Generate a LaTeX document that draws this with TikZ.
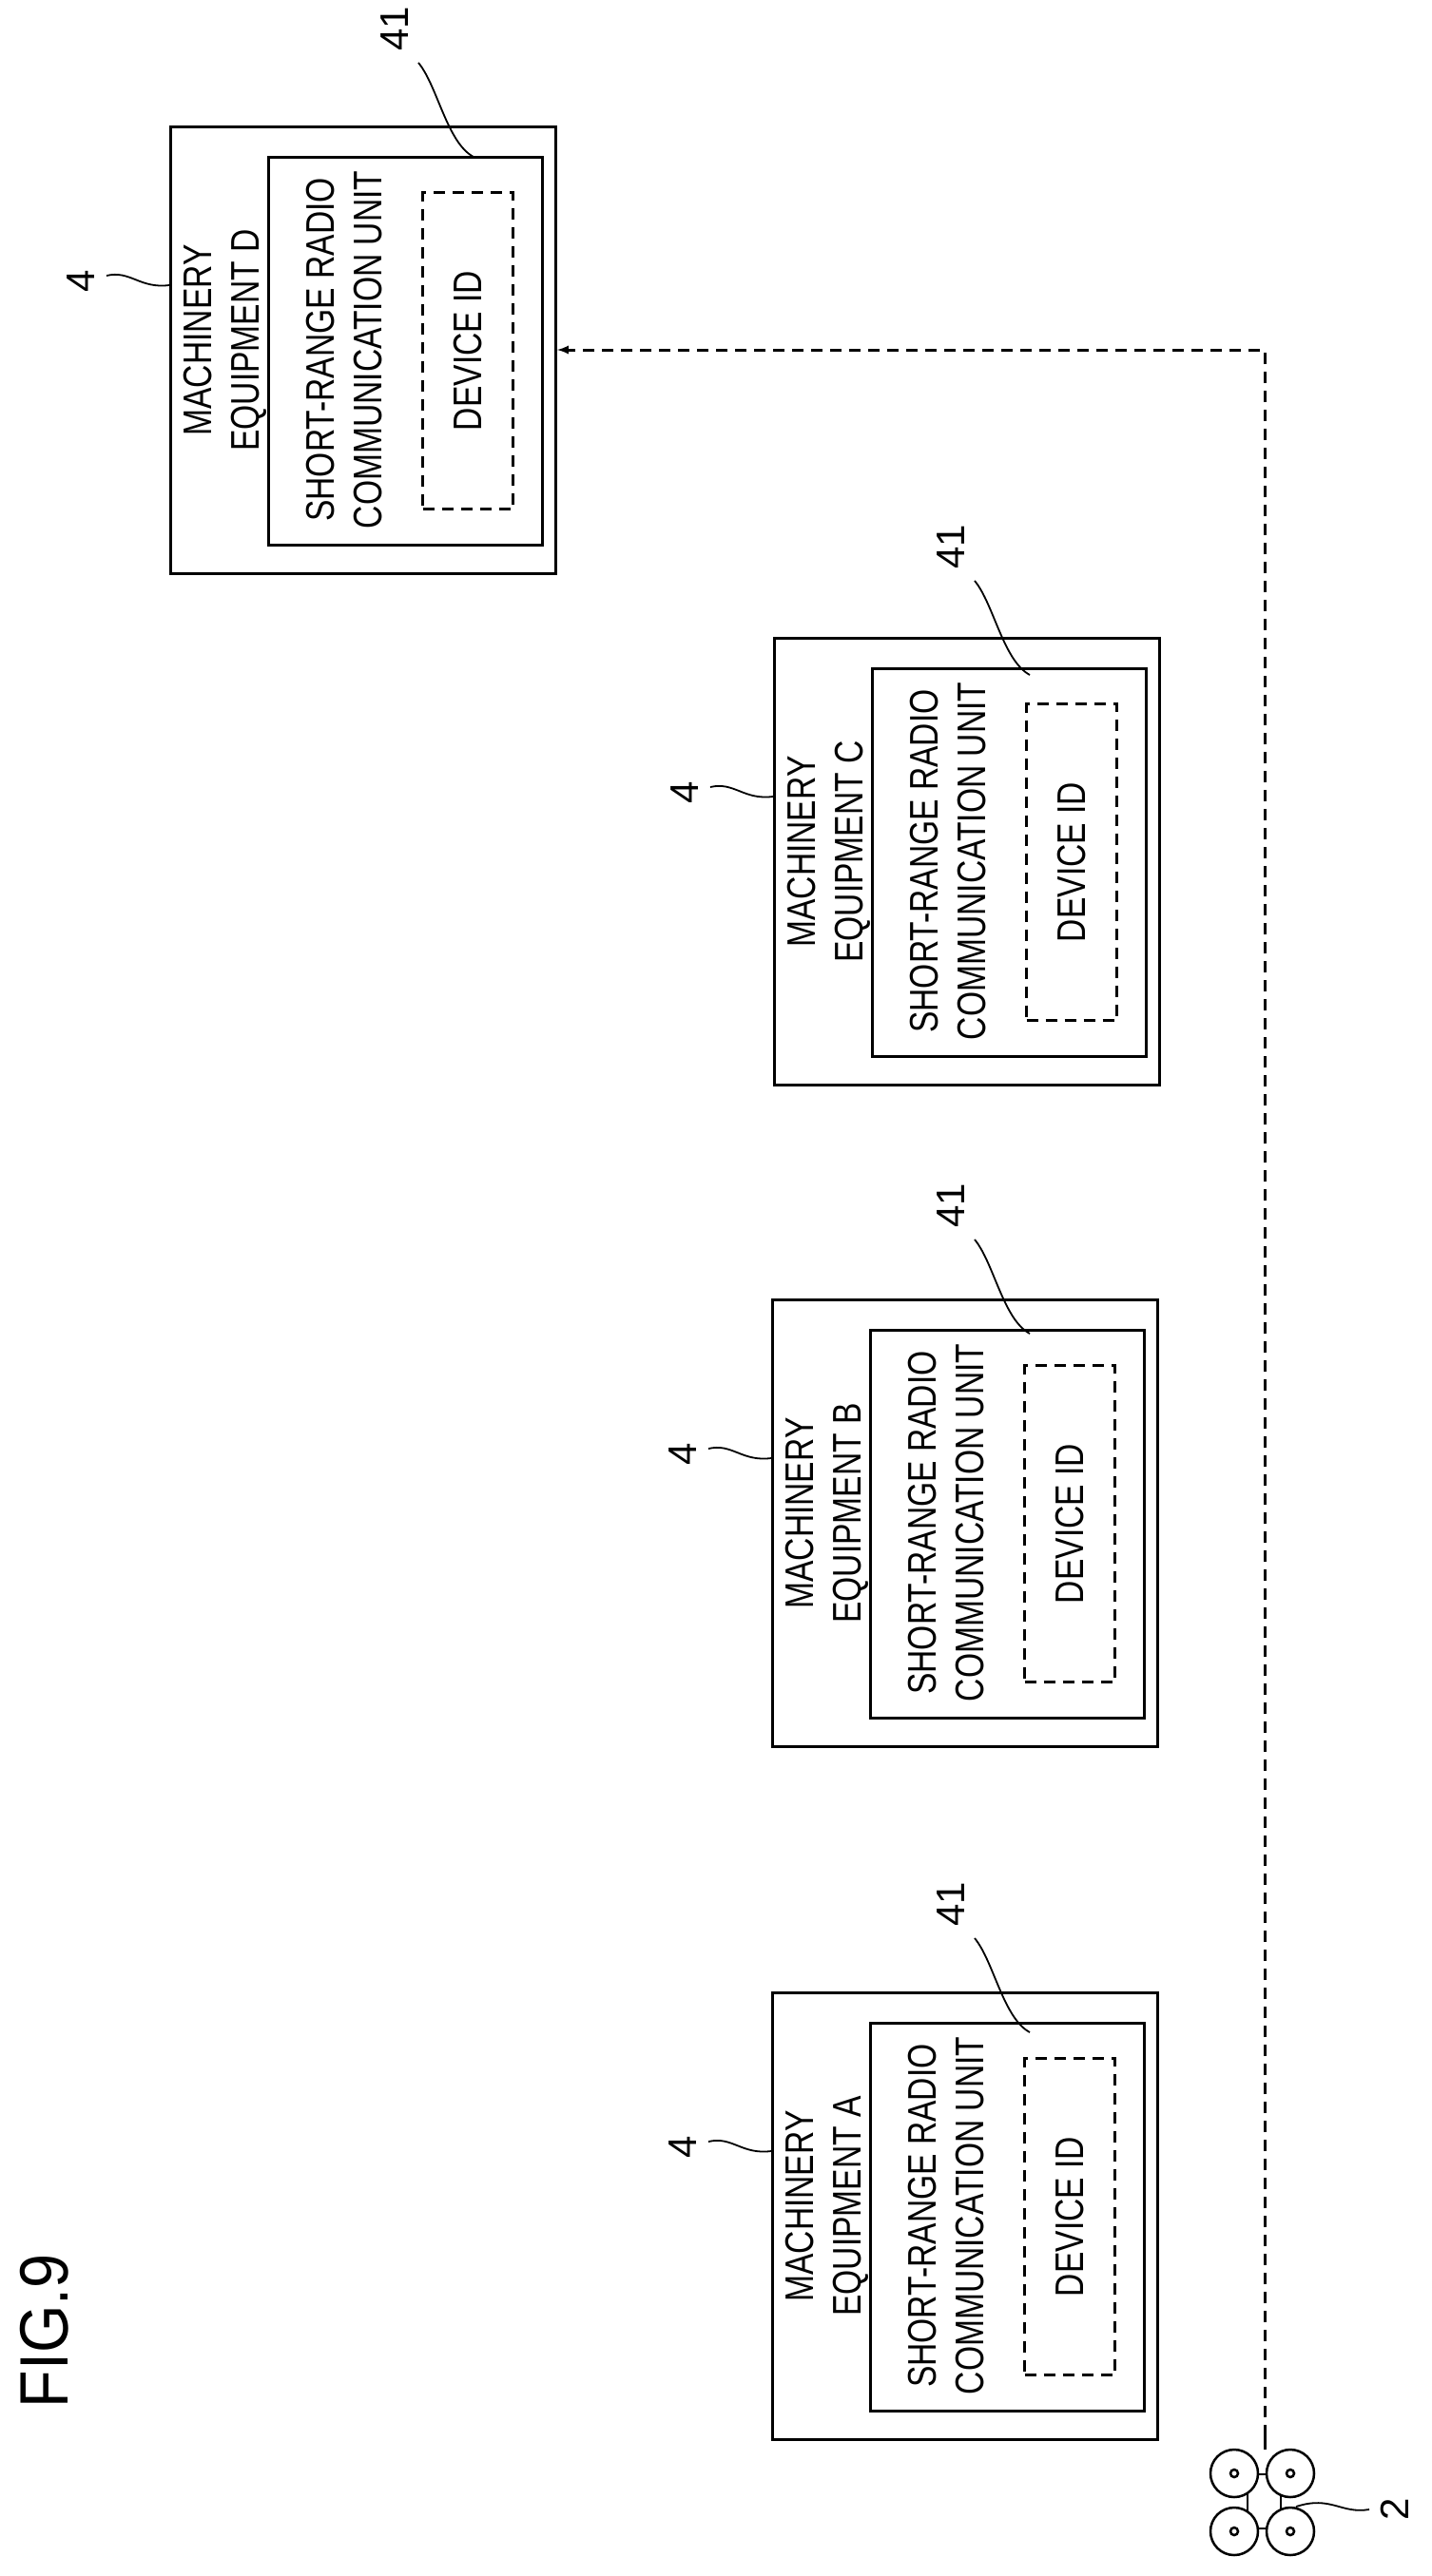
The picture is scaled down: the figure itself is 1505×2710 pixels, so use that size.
\documentclass[tikz,border=0pt]{standalone}
\usepackage{fontspec}
\setmainfont{Liberation Sans}
\newfontfamily\narrowfont[FakeStretch=0.8]{Liberation Sans}
\newfontfamily\figfont[FakeStretch=0.9]{Liberation Sans}
\tikzset{>=latex}

\begin{document}
\begin{tikzpicture}[x=1pt, y=-1pt,
                    box/.style={draw, line width=3pt, minimum width=405pt, minimum height=470pt, inner sep=0pt},
                    unit/.style={draw, line width=3pt, minimum width=288pt, minimum height=408pt, inner sep=0pt},
                    idbox/.style={draw, line width=2.5pt, dash pattern=on 12pt off 8pt, minimum width=95pt, minimum height=333pt, inner sep=0pt},
                    lbl/.style={rotate=90, font=\narrowfont\fontsize{42}{50}\selectfont, align=center, inner sep=0pt},
                    num/.style={rotate=90, font=\fontsize{42}{50}\selectfont, inner sep=0pt},
                    leader/.style={line width=1.8pt},
                    link/.style={->, line width=3pt, dash pattern=on 12pt off 8pt}]
  \useasboundingbox (0,0) rectangle (1505,2710);

  % title
  \node[rotate=90, font=\figfont\fontsize{72}{80}\selectfont, inner sep=0pt] (fig) at (47,2452) {FIG.9};

  % machinery equipment boxes
  \foreach \name/\cx/\cy/\lx/\ly in {A/1015/2331/1000/2003, B/1015/1602/1000/1268,
                                     C/1017/906/1000/575, D/382/368/415/30}{
    \node[box] (\name) at (\cx,\cy) {};
    \node[unit] (\name u) at (\cx+44,\cy+1) {};
    \node[idbox] (\name id) at (\cx+110,\cy+1) {};
    \node[lbl] (\name t) at (\cx-145,\cy-10) {MACHINERY\\EQUIPMENT \name};
    \node[lbl] (\name s) at (\cx-20,\cy) {SHORT-RANGE RADIO\\COMMUNICATION UNIT};
    \node[lbl] (\name i) at (\name id) {DEVICE ID};
    % reference numerals
    \node[num] (\name n) at (\cx-297,\cy-72) {4};
    \draw[leader] (\cx-270,\cy-78) .. controls (\cx-245,\cy-84) and (\cx-235,\cy-64) .. (\name.west |- 0,\cy-68);
    \node[num] (\name m) at (\lx,\ly) {41};
    \draw[leader] (\lx+25,\ly+36) .. controls (\lx+45,\ly+60) and (\lx+55,\ly+120) .. (\lx+83,\ly+135) -- (\lx+83,\ly+135);
  }

  % drone
  \draw[line width=2.5pt] (1312,2603) rectangle (1347,2660);
  \foreach \px/\py in {1298/2602, 1357/2602, 1298/2663, 1357/2663}{
    \draw[line width=2.5pt, fill=white] (\px,\py) circle (25);
    \draw[line width=2.5pt] (\px,\py) circle (4);
  }
  \coordinate (uav) at (1330,2577);
  \draw[line width=3pt] (uav) -- (1330,2563);
  \draw[leader] (1363,2637) .. controls (1400,2625) and (1410,2645) .. (1440,2640);
  \node[num] (uavn) at (1467,2640) {2};

  % radio link
  \draw[link] (1330,2563) |- (D.east);
\end{tikzpicture}
\end{document}
